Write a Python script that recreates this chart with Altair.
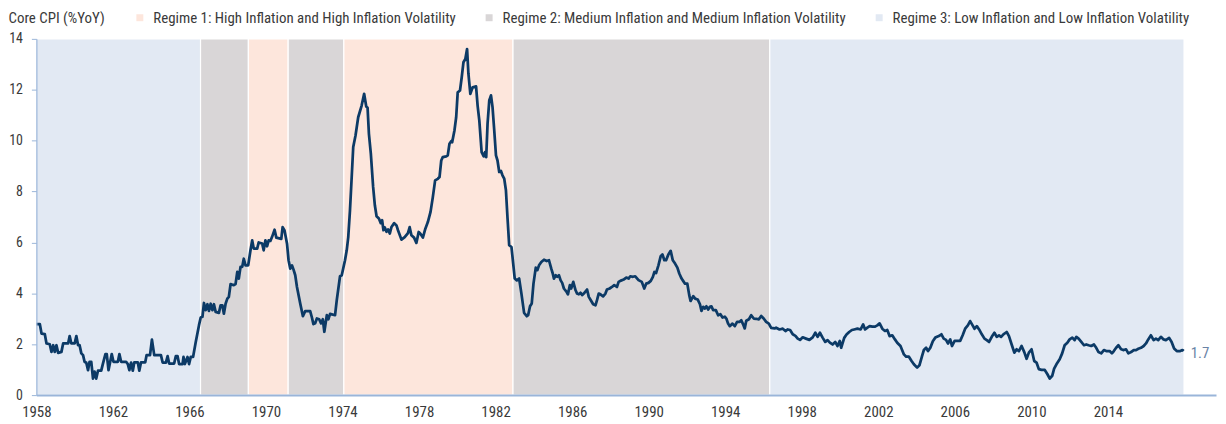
import altair as alt
import pandas as pd

FONT = "Liberation Sans Narrow, Arial Narrow, Roboto Condensed, DejaVu Sans Condensed, sans-serif"
TEXT_COLOR = "#3a3a3a"
AXIS_COLOR = "#9ab5d9"
LINE_COLOR = "#0c3a66"

# Core CPI, % year over year: (year, value)
cpi_1958_1976 = [
    (1958.01, 2.79), (1958.18, 2.79), (1958.27, 2.42), (1958.44, 2.40), (1958.53, 2.03), (1958.70, 2.00),
    (1958.79, 1.70), (1958.88, 1.96), (1958.96, 1.70), (1959.05, 1.96), (1959.14, 1.66), (1959.31, 1.70),
    (1959.40, 2.03), (1959.66, 2.03), (1959.74, 2.32), (1959.83, 2.03), (1960.00, 2.03), (1960.09, 2.32),
    (1960.18, 1.96), (1960.26, 1.96), (1960.35, 1.64), (1960.44, 1.57), (1960.52, 1.31), (1960.61, 1.27),
    (1960.70, 0.98), (1960.78, 1.31), (1960.87, 1.31), (1960.96, 0.65), (1961.04, 0.92), (1961.13, 0.65),
    (1961.22, 0.96), (1961.39, 0.96), (1961.48, 1.24), (1961.61, 1.61), (1961.68, 1.61), (1961.77, 0.98),
    (1961.86, 1.31), (1961.94, 1.61), (1962.03, 1.31), (1962.26, 1.31), (1962.34, 1.61), (1962.43, 1.31),
    (1962.69, 1.31), (1962.78, 1.22), (1962.86, 0.98), (1962.95, 1.28), (1963.04, 0.96), (1963.12, 1.29),
    (1963.30, 1.29), (1963.38, 0.96), (1963.47, 1.29), (1963.69, 1.29), (1963.76, 1.57), (1963.94, 1.57),
    (1964.04, 2.18), (1964.16, 1.57), (1964.51, 1.57), (1964.60, 1.28), (1964.77, 1.28), (1964.86, 1.53),
    (1964.94, 1.24), (1965.20, 1.24), (1965.29, 1.53), (1965.38, 1.53), (1965.46, 1.22), (1965.64, 1.22),
    (1965.69, 1.50), (1965.76, 1.22), (1965.90, 1.50), (1965.98, 1.22), (1966.07, 1.50), (1966.19, 1.50),
    (1966.33, 2.09), (1966.50, 2.75), (1966.59, 3.05), (1966.68, 3.08), (1966.76, 3.62), (1966.85, 3.34),
    (1966.94, 3.57), (1967.02, 3.31), (1967.11, 3.59), (1967.20, 3.34), (1967.28, 3.57), (1967.37, 3.27),
    (1967.54, 3.23), (1967.63, 3.53), (1967.72, 3.53), (1967.80, 3.20), (1967.89, 3.59), (1967.98, 3.79),
    (1968.06, 3.86), (1968.15, 4.36), (1968.32, 4.32), (1968.41, 4.36), (1968.50, 4.84), (1968.58, 4.58),
    (1968.67, 5.04), (1968.76, 5.04), (1968.84, 5.36), (1968.93, 5.10), (1969.07, 5.10), (1969.19, 5.69),
    (1969.28, 6.08), (1969.36, 5.76), (1969.54, 5.76), (1969.62, 6.00), (1969.80, 5.96), (1969.88, 5.69),
    (1969.97, 6.08), (1970.06, 5.85), (1970.14, 6.08), (1970.23, 6.06), (1970.32, 6.22), (1970.45, 6.50),
    (1970.54, 6.19), (1970.80, 6.14), (1970.87, 6.60), (1970.97, 6.47), (1971.10, 5.95), (1971.18, 5.30),
    (1971.27, 4.97), (1971.36, 5.10), (1971.44, 4.93), (1971.53, 4.71), (1971.62, 4.25), (1971.79, 3.60),
    (1971.93, 3.10), (1972.05, 3.30), (1972.31, 3.30), (1972.40, 3.05), (1972.48, 2.79), (1972.57, 2.82),
    (1972.66, 3.01), (1972.78, 2.98), (1972.88, 2.82), (1972.97, 2.98), (1973.05, 2.49), (1973.18, 3.14),
    (1973.26, 2.98), (1973.35, 3.19), (1973.61, 3.14), (1973.70, 3.73), (1973.87, 4.67), (1973.96, 4.71),
    (1974.13, 5.30), (1974.22, 5.69), (1974.30, 6.21), (1974.39, 7.26), (1974.48, 8.57), (1974.56, 9.75),
    (1974.68, 10.20), (1974.82, 10.92), (1975.00, 11.38), (1975.13, 11.84), (1975.24, 11.34), (1975.31, 11.29),
    (1975.38, 10.27), (1975.48, 9.49), (1975.60, 8.18), (1975.69, 7.46), (1975.78, 7.03), (1975.90, 6.94),
    (1976.00, 6.76), (1976.07, 6.87), (1976.14, 6.48), (1976.21, 6.59), (1976.30, 6.42), (1976.38, 6.51),
    (1976.47, 6.35), (1976.56, 6.61), (1976.70, 6.76), (1976.82, 6.67),
]

cpi_1977_1996 = [
    (1976.90, 6.48), (1977.08, 6.11), (1977.25, 6.21), (1977.42, 6.37), (1977.51, 6.60), (1977.60, 6.28),
    (1977.74, 6.19), (1977.86, 5.98), (1977.98, 6.41), (1978.08, 6.33), (1978.20, 6.19), (1978.33, 6.54),
    (1978.46, 6.80), (1978.60, 7.20), (1978.72, 7.78), (1978.84, 8.44), (1978.98, 8.50), (1979.07, 8.57),
    (1979.16, 9.22), (1979.24, 9.35), (1979.42, 9.38), (1979.50, 9.42), (1979.59, 9.88), (1979.68, 9.98),
    (1979.73, 9.94), (1979.85, 10.40), (1979.94, 10.92), (1980.02, 11.90), (1980.14, 11.97), (1980.23, 12.49),
    (1980.32, 13.08), (1980.42, 13.21), (1980.51, 13.60), (1980.58, 12.63), (1980.68, 11.84), (1980.80, 12.10),
    (1980.98, 12.13), (1981.06, 11.38), (1981.15, 10.79), (1981.27, 9.55), (1981.38, 9.38), (1981.45, 9.55),
    (1981.51, 9.35), (1981.58, 10.66), (1981.67, 11.58), (1981.76, 11.78), (1981.84, 11.32), (1981.93, 10.40),
    (1982.02, 9.42), (1982.10, 9.22), (1982.19, 8.77), (1982.28, 8.81), (1982.36, 8.64), (1982.45, 8.51),
    (1982.54, 8.05), (1982.62, 7.00), (1982.71, 5.89), (1982.83, 5.82), (1982.92, 5.17), (1983.00, 4.58),
    (1983.11, 4.51), (1983.23, 4.58), (1983.35, 3.99), (1983.49, 3.23), (1983.63, 3.10), (1983.70, 3.14),
    (1983.80, 3.49), (1983.89, 3.60), (1983.98, 4.38), (1984.10, 5.01), (1984.18, 4.91), (1984.27, 5.10),
    (1984.39, 5.23), (1984.53, 5.32), (1984.67, 5.27), (1984.79, 5.30), (1984.91, 4.97), (1984.98, 4.80),
    (1985.05, 4.58), (1985.14, 4.71), (1985.22, 4.65), (1985.31, 4.71), (1985.40, 4.51), (1985.48, 4.41),
    (1985.57, 4.19), (1985.71, 4.06), (1985.78, 3.96), (1985.88, 4.32), (1985.95, 4.19), (1986.06, 4.45),
    (1986.18, 4.12), (1986.26, 3.99), (1986.35, 3.96), (1986.44, 4.02), (1986.52, 3.93), (1986.61, 3.99),
    (1986.78, 4.15), (1986.87, 3.86), (1986.96, 3.75), (1987.10, 3.57), (1987.22, 3.53), (1987.30, 3.73),
    (1987.39, 3.99), (1987.48, 3.96), (1987.62, 3.88), (1987.74, 3.99), (1987.82, 4.15), (1987.96, 4.19),
    (1988.08, 4.25), (1988.20, 4.32), (1988.34, 4.25), (1988.43, 4.45), (1988.52, 4.49), (1988.69, 4.54),
    (1988.83, 4.62), (1988.95, 4.58), (1989.04, 4.67), (1989.18, 4.65), (1989.30, 4.67), (1989.47, 4.52),
    (1989.64, 4.45), (1989.77, 4.19), (1989.87, 4.38), (1989.99, 4.41), (1990.11, 4.49), (1990.22, 4.65),
    (1990.30, 4.84), (1990.39, 4.80), (1990.51, 5.10), (1990.63, 5.46), (1990.72, 5.53), (1990.82, 5.30),
    (1990.91, 5.30), (1991.03, 5.53), (1991.15, 5.67), (1991.26, 5.30), (1991.38, 5.17), (1991.50, 5.01),
    (1991.60, 4.78), (1991.72, 4.58), (1991.81, 4.48), (1991.90, 4.38), (1992.02, 4.38), (1992.12, 3.93),
    (1992.19, 3.70), (1992.33, 3.89), (1992.43, 3.79), (1992.56, 3.76), (1992.68, 3.57), (1992.76, 3.31),
    (1992.85, 3.47), (1992.94, 3.40), (1993.02, 3.49), (1993.11, 3.36), (1993.20, 3.47), (1993.28, 3.49),
    (1993.37, 3.34), (1993.51, 3.34), (1993.63, 3.14), (1993.75, 3.18), (1993.86, 3.05), (1993.98, 3.08),
    (1994.06, 3.01), (1994.15, 2.81), (1994.24, 2.71), (1994.38, 2.81), (1994.50, 2.71), (1994.62, 2.88),
    (1994.76, 2.88), (1994.84, 2.94), (1994.93, 2.79), (1995.02, 2.62), (1995.10, 2.92), (1995.24, 2.98),
    (1995.36, 3.14), (1995.49, 3.01), (1995.62, 3.00), (1995.76, 2.98), (1995.88, 3.11), (1996.01, 3.01),
    (1996.14, 2.88), (1996.28, 2.81), (1996.40, 2.64), (1996.58, 2.62),
]

cpi_1997_2017 = [
    (1996.66, 2.65), (1996.84, 2.58), (1997.01, 2.61), (1997.15, 2.52), (1997.27, 2.58), (1997.39, 2.56),
    (1997.53, 2.39), (1997.67, 2.33), (1997.79, 2.22), (1997.91, 2.17), (1998.05, 2.27), (1998.22, 2.22),
    (1998.40, 2.17), (1998.57, 2.27), (1998.71, 2.45), (1998.83, 2.29), (1998.95, 2.45), (1999.09, 2.26),
    (1999.23, 2.09), (1999.35, 2.16), (1999.47, 2.06), (1999.61, 1.99), (1999.75, 2.09), (1999.87, 1.93),
    (1999.99, 2.13), (2000.06, 1.86), (2000.22, 2.25), (2000.34, 2.38), (2000.48, 2.48), (2000.62, 2.56),
    (2000.74, 2.58), (2000.91, 2.61), (2001.08, 2.58), (2001.21, 2.78), (2001.31, 2.58), (2001.43, 2.65),
    (2001.55, 2.71), (2001.69, 2.69), (2001.83, 2.69), (2001.95, 2.74), (2002.07, 2.82), (2002.21, 2.61),
    (2002.35, 2.52), (2002.47, 2.56), (2002.59, 2.32), (2002.73, 2.35), (2002.87, 2.19), (2002.99, 2.06),
    (2003.16, 1.93), (2003.34, 1.60), (2003.46, 1.51), (2003.60, 1.51), (2003.74, 1.34), (2003.86, 1.21),
    (2004.03, 1.08), (2004.15, 1.17), (2004.29, 1.54), (2004.38, 1.77), (2004.50, 1.86), (2004.60, 1.73),
    (2004.72, 1.86), (2004.85, 2.12), (2004.98, 2.26), (2005.16, 2.32), (2005.30, 2.39), (2005.42, 2.22),
    (2005.54, 2.17), (2005.64, 2.03), (2005.76, 2.19), (2005.85, 1.93), (2005.99, 2.13), (2006.11, 2.13),
    (2006.28, 2.13), (2006.41, 2.35), (2006.54, 2.61), (2006.68, 2.74), (2006.80, 2.91), (2006.93, 2.74),
    (2007.03, 2.61), (2007.15, 2.71), (2007.27, 2.58), (2007.41, 2.39), (2007.55, 2.22), (2007.67, 2.16),
    (2007.79, 2.09), (2007.93, 2.29), (2008.07, 2.45), (2008.19, 2.29), (2008.31, 2.35), (2008.42, 2.29),
    (2008.54, 2.39), (2008.71, 2.48), (2008.83, 2.32), (2008.97, 1.99), (2009.11, 1.67), (2009.23, 1.80),
    (2009.35, 1.73), (2009.49, 1.93), (2009.63, 1.69), (2009.75, 1.43), (2009.87, 1.67), (2010.01, 1.80),
    (2010.15, 1.34), (2010.27, 1.28), (2010.39, 1.02), (2010.53, 0.99), (2010.70, 0.99), (2010.84, 0.82),
    (2010.96, 0.65), (2011.09, 0.76), (2011.19, 1.04), (2011.31, 1.21), (2011.48, 1.41), (2011.61, 1.64),
    (2011.74, 1.96), (2011.88, 2.06), (2012.00, 2.19), (2012.14, 2.26), (2012.26, 2.16), (2012.35, 2.29),
    (2012.47, 2.22), (2012.61, 2.09), (2012.75, 1.96), (2012.87, 1.99), (2012.99, 1.96), (2013.13, 1.93),
    (2013.27, 1.99), (2013.39, 1.86), (2013.51, 1.69), (2013.65, 1.64), (2013.79, 1.77), (2013.91, 1.73),
    (2014.09, 1.73), (2014.21, 1.64), (2014.31, 1.73), (2014.43, 1.86), (2014.55, 1.96), (2014.69, 1.80),
    (2014.83, 1.77), (2014.95, 1.80), (2015.07, 1.64), (2015.21, 1.69), (2015.35, 1.77), (2015.47, 1.77),
    (2015.59, 1.82), (2015.73, 1.86), (2015.87, 1.93), (2015.99, 2.03), (2016.11, 2.19), (2016.25, 2.35),
    (2016.39, 2.16), (2016.51, 2.22), (2016.63, 2.16), (2016.77, 2.29), (2016.91, 2.19), (2017.03, 2.16),
    (2017.20, 2.25), (2017.33, 2.09), (2017.46, 1.83), (2017.60, 1.73), (2017.78, 1.73), (2017.90, 1.77),
    (2017.96, 1.73),
]

regime_labels = [
    "Regime 1: High Inflation and High Inflation Volatility",
    "Regime 2: Medium Inflation and Medium Inflation Volatility",
    "Regime 3: Low Inflation and Low Inflation Volatility",
]
regime_colors = ["#fde6dc", "#d9d6d7", "#e2e9f3"]

band_start = [1958.0, 1966.58, 1969.08, 1971.16, 1974.07, 1982.91, 1996.33]
band_end = [1966.58, 1969.08, 1971.16, 1974.07, 1982.91, 1996.33, 2017.98]
band_regime = [3, 2, 1, 2, 1, 2, 3]

x_ticks = [1958, 1962, 1966, 1970, 1974, 1978, 1982, 1986, 1990, 1994, 1998, 2002, 2006, 2010, 2014]
y_ticks = [0, 2, 4, 6, 8, 10, 12, 14]
x_domain = [1958, 2019.65]
y_domain = [0, 14]
end_text = "1.7"

points = cpi_1958_1976 + cpi_1977_1996 + cpi_1997_2017
cpi = pd.DataFrame(points, columns=["year", "value"])
bands = pd.DataFrame({
    "start": band_start,
    "end": band_end,
    "regime": [regime_labels[r - 1] for r in band_regime],
})
last = pd.DataFrame({"year": [points[-1][0]], "value": [points[-1][1]], "label": [end_text]})

x_scale = alt.Scale(domain=x_domain, nice=False, zero=False)
y_scale = alt.Scale(domain=y_domain, nice=False, zero=True)

x_axis = alt.Axis(
    values=x_ticks, format="d", title=None, ticks=False, labelFlush=False,
    labelFontSize=15, labelColor=TEXT_COLOR, labelPadding=9,
    domainColor=AXIS_COLOR, domainWidth=2, grid=False, zindex=1,
)
y_axis = alt.Axis(
    values=y_ticks, title="Core CPI (%YoY)", titleAngle=0, titleX=-28.5, titleY=-16,
    titleAlign="left", titleBaseline="alphabetic", titleFontSize=15, titleFontWeight="normal",
    titleColor=TEXT_COLOR, titleFont=FONT,
    labelFontSize=14, labelColor=TEXT_COLOR, labelPadding=9,
    tickSize=5, tickColor=AXIS_COLOR, tickWidth=1,
    domainColor=AXIS_COLOR, domainWidth=1.2, grid=False, zindex=1,
)

band_layer = alt.Chart(bands).mark_rect(stroke="white", strokeWidth=1.2, opacity=1).encode(
    x=alt.X("start:Q", scale=x_scale, axis=x_axis),
    x2="end:Q",
    color=alt.Color(
        "regime:N",
        scale=alt.Scale(domain=regime_labels, range=regime_colors),
        legend=alt.Legend(
            orient="none", legendX=96.5, legendY=-29, direction="horizontal", title=None,
            symbolType="square", symbolSize=49, symbolStrokeWidth=0, symbolOpacity=1,
            labelFont=FONT, labelFontSize=15, labelColor=TEXT_COLOR, labelOffset=6,
            columnPadding=25, padding=0, labelLimit=500,
        ),
    ),
)

line_layer = alt.Chart(cpi).mark_line(color=LINE_COLOR, strokeWidth=2.75, strokeJoin="round").encode(
    x=alt.X("year:Q", scale=x_scale, axis=x_axis),
    y=alt.Y("value:Q", scale=y_scale, axis=y_axis),
)

label_layer = alt.Chart(last).mark_text(
    align="left", baseline="middle", dx=7, dy=2, fontSize=15, font=FONT, color="#6a83a6",
).encode(
    x=alt.X("year:Q", scale=x_scale),
    y=alt.Y("value:Q", scale=y_scale),
    text="label:N",
)

chart = alt.layer(band_layer, line_layer, label_layer).properties(
    width=1185.5,
    height=358,
    autosize=alt.AutoSizeParams(type="none"),
    padding={"left": 28.5, "top": 30, "right": 2, "bottom": 27},
    background="white",
).configure(font=FONT).configure_view(stroke=None).configure_axis(labelFont=FONT, titleFont=FONT)

chart.save("out.html", embed_options={"renderer": "svg", "actions": False})
